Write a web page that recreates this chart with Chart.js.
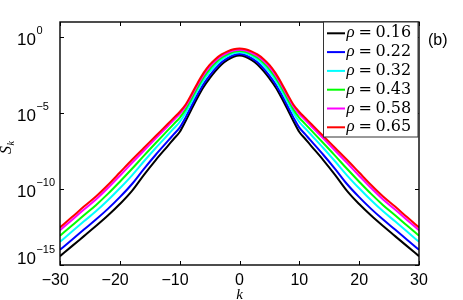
<!DOCTYPE html>
<html><head><meta charset="utf-8">
<script src="https://cdn.jsdelivr.net/npm/chart.js@4/dist/chart.umd.min.js"></script>
<style>html,body{margin:0;padding:0;background:#fff}#wrap{width:463px;height:300px}</style>
</head><body><div id="wrap"><canvas id="c" width="463" height="300"></canvas></div>
<script>
// wavenumbers k
const kValues = [-30,-28,-26,-24,-22,-20,-18,-16,-14,-12,-11,-10,-9,-8,-7,-6,-5,-4,-3,-2,-1,0,1,2,3,4,5,6,7,8,9,10,11,12,14,16,18,20,22,24,26,28,30];

// S_k for each density
const rho016 = [3.83e-15,1.75e-14,7.98e-14,3.64e-13,1.79e-12,1.03e-11,7.38e-11,8.38e-10,8.17e-9,6.82e-8,1.98e-7,5.71e-7,3.03e-6,1.88e-5,1.08e-4,5.30e-4,1.92e-3,6.01e-3,1.61e-2,3.19e-2,5.19e-2,6.31e-2,5.19e-2,3.19e-2,1.61e-2,6.01e-3,1.92e-3,5.30e-4,1.08e-4,1.88e-5,3.03e-6,5.71e-7,1.98e-7,6.82e-8,8.17e-9,8.38e-10,7.38e-11,1.03e-11,1.79e-12,3.64e-13,7.98e-14,1.75e-14,3.83e-15];
const rho022 = [9.98e-15,4.60e-14,2.14e-13,9.75e-13,4.95e-12,2.94e-11,2.08e-10,2.07e-9,1.82e-8,1.42e-7,3.98e-7,1.11e-6,5.25e-6,3.08e-5,1.73e-4,8.38e-4,2.99e-3,8.87e-3,2.22e-2,4.20e-2,6.59e-2,7.89e-2,6.59e-2,4.20e-2,2.22e-2,8.87e-3,2.99e-3,8.38e-4,1.73e-4,3.08e-5,5.25e-6,1.11e-6,3.98e-7,1.42e-7,1.82e-8,2.07e-9,2.08e-10,2.94e-11,4.95e-12,9.75e-13,2.14e-13,4.60e-14,9.98e-15];
const rho032 = [3.38e-14,1.58e-13,7.48e-13,3.41e-12,1.81e-11,1.12e-10,7.76e-10,6.50e-9,5.05e-8,3.62e-7,9.72e-7,2.61e-6,1.05e-5,5.75e-5,3.15e-4,1.48e-3,5.14e-3,1.43e-2,3.30e-2,5.83e-2,8.79e-2,1.03e-1,8.79e-2,5.83e-2,3.30e-2,1.43e-2,5.14e-3,1.48e-3,3.15e-4,5.75e-5,1.05e-5,2.61e-6,9.72e-7,3.62e-7,5.05e-8,6.50e-9,7.76e-10,1.12e-10,1.81e-11,3.41e-12,7.48e-13,1.58e-13,3.38e-14];
const rho043 = [8.43e-14,3.98e-13,1.91e-12,8.75e-12,4.80e-11,3.06e-10,2.08e-9,1.54e-8,1.08e-7,7.31e-7,1.90e-6,4.93e-6,1.77e-5,9.16e-5,4.90e-4,2.25e-3,7.67e-3,2.03e-2,4.40e-2,7.41e-2,1.08e-1,1.25e-1,1.08e-1,7.41e-2,4.40e-2,2.03e-2,7.67e-3,2.25e-3,4.90e-4,9.16e-5,1.77e-5,4.93e-6,1.90e-6,7.31e-7,1.08e-7,1.54e-8,2.08e-9,3.06e-10,4.80e-11,8.75e-12,1.91e-12,3.98e-13,8.43e-14];
const rho058 = [1.93e-13,9.19e-13,4.49e-12,2.05e-11,1.16e-10,7.59e-10,5.11e-9,3.35e-8,2.17e-7,1.38e-6,3.48e-6,8.79e-6,2.82e-5,1.40e-4,7.35e-4,3.32e-3,1.11e-2,2.81e-2,5.74e-2,9.29e-2,1.32e-1,1.49e-1,1.32e-1,9.29e-2,5.74e-2,2.81e-2,1.11e-2,3.32e-3,7.35e-4,1.40e-4,2.82e-5,8.79e-6,3.48e-6,1.38e-6,2.17e-7,3.35e-8,5.11e-9,7.59e-10,1.16e-10,2.05e-11,4.49e-12,9.19e-13,1.93e-13];
const rho065 = [2.99e-13,1.43e-12,7.01e-12,3.21e-11,1.84e-10,1.22e-9,8.17e-9,5.05e-8,3.12e-7,1.93e-6,4.79e-6,1.19e-5,3.72e-5,1.83e-4,9.70e-4,4.44e-3,1.49e-2,3.72e-2,7.35e-2,1.16e-1,1.62e-1,1.83e-1,1.62e-1,1.16e-1,7.35e-2,3.72e-2,1.49e-2,4.44e-3,9.70e-4,1.83e-4,3.72e-5,1.19e-5,4.79e-6,1.93e-6,3.12e-7,5.05e-8,8.17e-9,1.22e-9,1.84e-10,3.21e-11,7.01e-12,1.43e-12,2.99e-13];

const seriesValues = [rho016, rho022, rho032, rho043, rho058, rho065];
const seriesLabels = ['ρ = 0.16','ρ = 0.22','ρ = 0.32','ρ = 0.43','ρ = 0.58','ρ = 0.65'];
const seriesColors = ['#000000','#0000ff','#00ffff','#00ff00','#ff00ff','#ff0000'];

// tick labels
const xTicks = [-30,-20,-10,0,10,20,30];
const yTickValues = [1, 1e-5, 1e-10, 1e-15];
const yTickExponents = ['0','\u22125','\u221210','\u221215'];
const xTitle = 'k';
const yTitleMain = 'S';
const yTitleSub = 'k';
const panelTag = '(b)';

const datasets = seriesValues.map((vals, i) => ({
  label: seriesLabels[i],
  data: kValues.map((k, j) => ({x: k, y: vals[j]})),
  borderColor: seriesColors[i],
  backgroundColor: seriesColors[i],
  borderWidth: 2,
  pointRadius: 0,
  fill: false,
  cubicInterpolationMode: 'monotone',
  borderJoinStyle: 'round',
  order: seriesValues.length - i
}));

const decor = {
  id: 'decor',
  afterDraw(chart) {
    const ctx = chart.ctx, a = chart.chartArea;
    const xs = chart.scales.x, ys = chart.scales.y;
    ctx.save();
    // frame
    ctx.strokeStyle = '#000';
    ctx.lineWidth = 1.4;
    ctx.strokeRect(a.left, a.top, a.right - a.left, a.bottom - a.top);
    // inward ticks
    ctx.lineWidth = 1;
    ctx.beginPath();
    xTicks.forEach(v => {
      const px = Math.round(xs.getPixelForValue(v)) + 0.5;
      ctx.moveTo(px, a.bottom); ctx.lineTo(px, a.bottom - 4);
      ctx.moveTo(px, a.top); ctx.lineTo(px, a.top + 4);
    });
    yTickValues.forEach(v => {
      const py = Math.round(ys.getPixelForValue(v)) + 0.5;
      ctx.moveTo(a.left, py); ctx.lineTo(a.left + 4, py);
      ctx.moveTo(a.right, py); ctx.lineTo(a.right - 4, py);
    });
    ctx.stroke();
    ctx.fillStyle = '#000';
    ctx.textBaseline = 'alphabetic';
    // x tick labels: digits centred on the tick, minus sign hanging left
    ctx.font = '16px "Liberation Sans", Arial, sans-serif';
    xTicks.forEach(v => {
      const px = xs.getPixelForValue(v);
      const s = String(Math.abs(v));
      const w = ctx.measureText(s).width;
      ctx.textAlign = 'left';
      ctx.fillText(s, px - w / 2, a.bottom + 19.5);
      if (v < 0) { ctx.textAlign = 'right'; ctx.fillText('\u2212', px - w / 2, a.bottom + 19.5); }
    });
    // y tick labels 10^n
    ctx.textAlign = 'left';
    yTickValues.forEach((v, i) => {
      const py = ys.getPixelForValue(v);
      const base = Math.min(py + 7.5, a.bottom - 1.5);
      ctx.font = '17px "Liberation Sans", Arial, sans-serif';
      ctx.fillText('10', 17, base);
      const w = ctx.measureText('10').width;
      ctx.font = '11px "Liberation Sans", Arial, sans-serif';
      ctx.fillText(yTickExponents[i], 17 + w + 0.5, base - 10.5);
    });
    // axis titles
    ctx.font = 'italic 15px "Liberation Serif", "DejaVu Serif", serif';
    ctx.textAlign = 'center';
    ctx.fillText(xTitle, (a.left + a.right) / 2, 298.5);
    ctx.save();
    ctx.translate(11, 154);
    ctx.rotate(-Math.PI / 2);
    ctx.textAlign = 'left';
    ctx.font = 'italic 16px "Liberation Serif", "DejaVu Serif", serif';
    ctx.fillText(yTitleMain, 0, 0);
    const sw = ctx.measureText(yTitleMain).width;
    ctx.font = 'italic 10px "Liberation Serif", "DejaVu Serif", serif';
    ctx.fillText(yTitleSub, sw + 0.5, 3);
    ctx.restore();
    // legend box
    const lx = 323.5, ly = a.top, lw = a.right - 323.5 - 1, lh = 137 - a.top;
    ctx.fillStyle = '#fff';
    ctx.fillRect(lx, ly, lw, lh);
    ctx.strokeStyle = '#333';
    ctx.lineWidth = 1;
    ctx.strokeRect(lx, ly, lw, lh);
    chart.data.datasets.forEach((ds, i) => {
      const ry = 33.3 + i * 18.8;
      ctx.strokeStyle = ds.borderColor;
      ctx.lineWidth = 2;
      ctx.beginPath(); ctx.moveTo(327, ry); ctx.lineTo(345, ry); ctx.stroke();
      const parts = ds.label.split(' = ');
      ctx.fillStyle = '#000';
      ctx.textAlign = 'left';
      ctx.font = 'italic 17px "Liberation Serif", serif';
      ctx.fillText(parts[0], 346.5, ry + 4);
      ctx.font = '16px "DejaVu Serif", serif';
      ctx.fillText('=', 358.5, ry + 4);
      ctx.fillText(parts[1], 375.5, ry + 4);
    });
    // panel tag
    ctx.fillStyle = '#000';
    ctx.font = '16px "Liberation Sans", Arial, sans-serif';
    ctx.textAlign = 'left';
    ctx.fillText(panelTag, 428, 44.5);
    ctx.restore();
  }
};

new Chart(document.getElementById('c'), {
  type: 'line',
  data: { datasets },
  options: {
    responsive: false,
    animation: false,
    devicePixelRatio: 1,
    layout: { padding: { left: 0, right: 44, top: 22, bottom: 0 } },
    plugins: { legend: { display: false }, tooltip: { enabled: false } },
    scales: {
      x: {
        type: 'linear', min: -30, max: 30,
        ticks: { display: false, stepSize: 10 },
        grid: { display: false }, border: { display: false },
        afterFit: s => { s.height = 35; }
      },
      y: {
        type: 'logarithmic', min: 1e-15, max: 10,
        ticks: { display: false },
        grid: { display: false }, border: { display: false },
        afterFit: s => { s.width = 60; }
      }
    }
  },
  plugins: [decor]
});
</script></body></html>
